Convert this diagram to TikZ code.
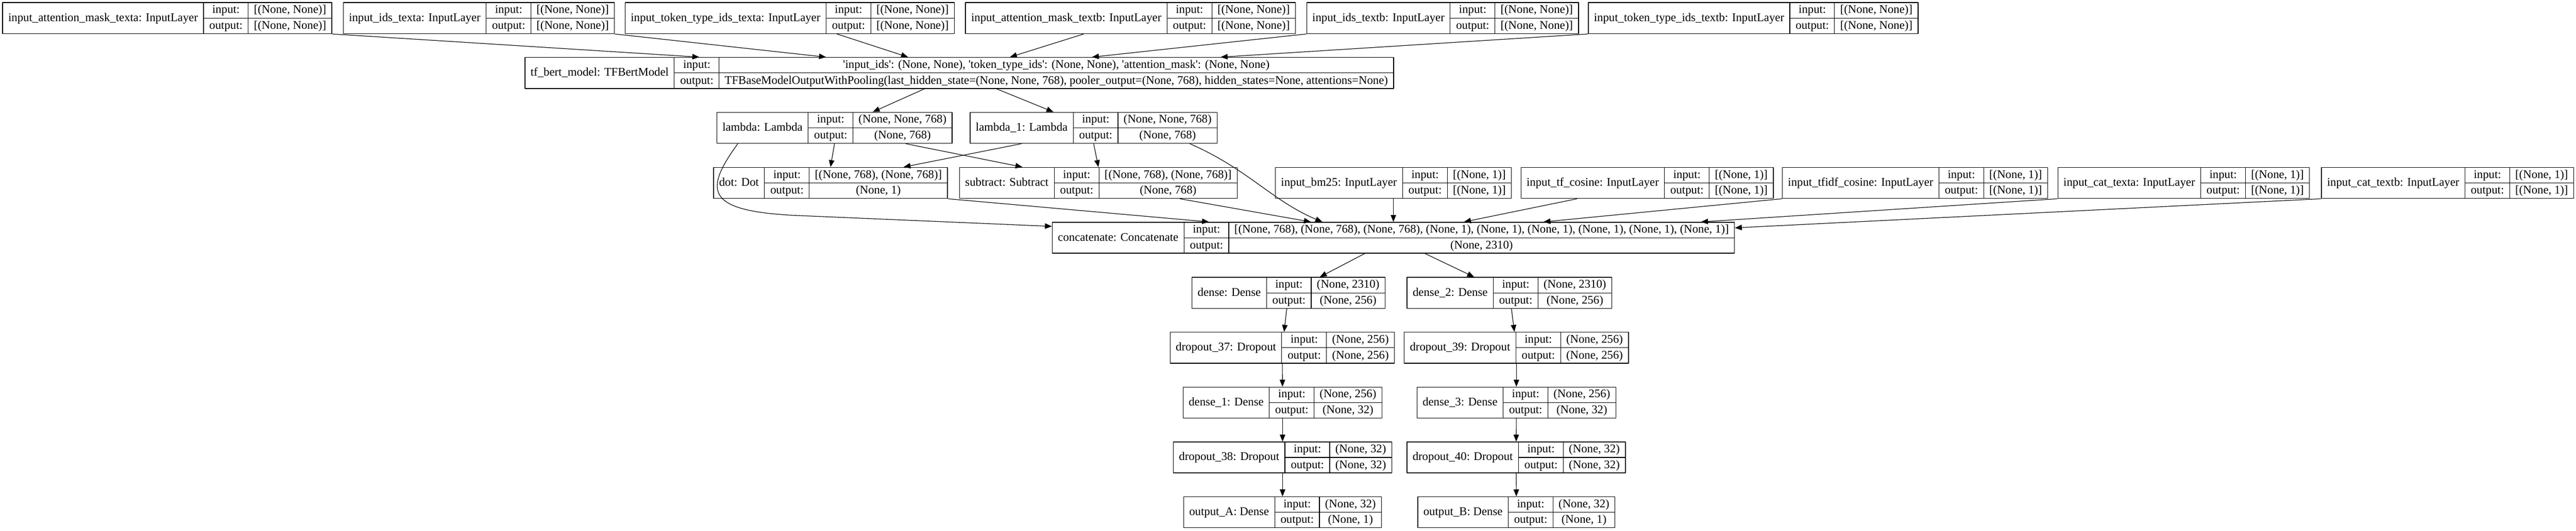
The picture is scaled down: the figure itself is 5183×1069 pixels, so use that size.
\documentclass[tikz,border=0pt]{standalone}
\usepackage{fontspec}
\setmainfont{Liberation Serif}
\usetikzlibrary{arrows.meta}
\setlength{\tabcolsep}{11.3pt}
\setlength{\arrayrulewidth}{1.2pt}
\renewcommand{\arraystretch}{1.07}
\newcommand{\q}{\textquotesingle}
% one keras layer: name | input/output | shapes
\newcommand{\layerrec}[3]{%
  \begin{tabular}{c|@{}c@{}}
    #1 &
    \begin{tabular}{c|c}
      input: & #2\\ \hline
      output: & #3
    \end{tabular}
  \end{tabular}}
\begin{document}
\begin{tikzpicture}[x=1pt, y=-1pt, line join=round,
  layer/.style={draw, line width=1.5pt, inner sep=0pt, font=\fontsize{23.6}{28.6}\selectfont},
  edge/.style={line width=1.2pt, -{Triangle[length=14pt,width=11pt]}}]
\useasboundingbox (0,0) rectangle (5183,1069);
\def \nn{[(None, None)]};
\def \none{[(None, 1)]};
% inputs of the bert model
\node[layer] (a1) at (336.5,36.5) {\layerrec{input\_attention\_mask\_texta: InputLayer}{\nn}{\nn}};
\node[layer] (a2) at (963.5,36.5) {\layerrec{input\_ids\_texta: InputLayer}{\nn}{\nn}};
\node[layer] (a3) at (1589,36.5) {\layerrec{input\_token\_type\_ids\_texta: InputLayer}{\nn}{\nn}};
\node[layer] (a4) at (2274.5,36.5) {\layerrec{input\_attention\_mask\_textb: InputLayer}{\nn}{\nn}};
\node[layer] (a5) at (2902.5,36.5) {\layerrec{input\_ids\_textb: InputLayer}{\nn}{\nn}};
\node[layer] (a6) at (3527.5,36.5) {\layerrec{input\_token\_type\_ids\_textb: InputLayer}{\nn}{\nn}};
\node[layer] (tfbert) at (1930,147) {\layerrec{tf\_bert\_model: TFBertModel}{\q input\_ids\q: (None, None), \q token\_type\_ids\q: (None, None), \q attention\_mask\q: (None, None)}{TFBaseModelOutputWithPooling(last\_hidden\_state=(None, None, 768), pooler\_output=(None, 768), hidden\_states=None, attentions=None)}};
\node[layer] (lambda) at (1679,257.5) {\layerrec{lambda: Lambda}{(None, None, 768)}{(None, 768)}};
\node[layer] (lambda1) at (2200.5,257.5) {\layerrec{lambda\_1: Lambda}{(None, None, 768)}{(None, 768)}};
\node[layer] (dot) at (1671,368.5) {\layerrec{dot: Dot}{[(None, 768), (None, 768)]}{(None, 1)}};
\node[layer] (subtract) at (2210,368.5) {\layerrec{subtract: Subtract}{[(None, 768), (None, 768)]}{(None, 768)}};
\node[layer] (bm25) at (2803.5,368.5) {\layerrec{input\_bm25: InputLayer}{\none}{\none}};
\node[layer] (tfcos) at (3314,368.5) {\layerrec{input\_tf\_cosine: InputLayer}{\none}{\none}};
\node[layer] (tfidf) at (3853,368.5) {\layerrec{input\_tfidf\_cosine: InputLayer}{\none}{\none}};
\node[layer] (cata) at (4393.5,368.5) {\layerrec{input\_cat\_texta: InputLayer}{\none}{\none}};
\node[layer] (catb) at (4924.5,368.5) {\layerrec{input\_cat\_textb: InputLayer}{\none}{\none}};
\node[layer] (concat) at (2803.5,479) {\layerrec{concatenate: Concatenate}{[(None, 768), (None, 768), (None, 768), (None, 1), (None, 1), (None, 1), (None, 1), (None, 1), (None, 1)]}{(None, 2310)}};
% two heads
\node[layer] (dense) at (2592.5,590) {\layerrec{dense: Dense}{(None, 2310)}{(None, 256)}};
\node[layer] (dense2) at (3037,590) {\layerrec{dense\_2: Dense}{(None, 2310)}{(None, 256)}};
\node[layer] (drop37) at (2580,700.5) {\layerrec{dropout\_37: Dropout}{(None, 256)}{(None, 256)}};
\node[layer] (drop39) at (3051,700.5) {\layerrec{dropout\_39: Dropout}{(None, 256)}{(None, 256)}};
\node[layer] (dense1) at (2580.5,811) {\layerrec{dense\_1: Dense}{(None, 256)}{(None, 32)}};
\node[layer] (dense3) at (3051,811) {\layerrec{dense\_3: Dense}{(None, 256)}{(None, 32)}};
\node[layer] (drop38) at (2580.5,921.5) {\layerrec{dropout\_38: Dropout}{(None, 32)}{(None, 32)}};
\node[layer] (drop40) at (3050.5,921.5) {\layerrec{dropout\_40: Dropout}{(None, 32)}{(None, 32)}};
\node[layer] (outA) at (2580.5,1032) {\layerrec{output\_A: Dense}{(None, 32)}{(None, 1)}};
\node[layer] (outB) at (3051,1032) {\layerrec{output\_B: Dense}{(None, 32)}{(None, 1)}};
% edges into the bert model
\draw[edge] (a1.south east) -- ([xshift=-523pt]tfbert.north);
\draw[edge] (a2.south east) -- ([xshift=-268pt]tfbert.north);
\draw[edge] ([xshift=95pt]a3.south) -- ([xshift=-103pt]tfbert.north);
\draw[edge] ([xshift=-94pt]a4.south) -- ([xshift=102pt]tfbert.north);
\draw[edge] (a5.south west) -- ([xshift=267pt]tfbert.north);
\draw[edge] (a6.south west) -- ([xshift=526pt]tfbert.north);
\draw[edge] ([xshift=-70pt]tfbert.south) -- ([xshift=77pt]lambda.north);
\draw[edge] ([xshift=75pt]tfbert.south) -- ([xshift=-81pt]lambda1.north);
% lambdas
\draw[edge] (lambda.south) -- (dot.north);
\draw[edge] ([xshift=143pt]lambda.south) -- ([xshift=-153pt]subtract.north);
\draw[edge] ([xshift=-145pt]lambda1.south) -- ([xshift=147pt]dot.north);
\draw[edge] (lambda1.south) -- (subtract.north);
\draw[edge] ([xshift=43pt]lambda.south west) .. controls (1415,385) and (1420,425) .. (1600,434) -- ([yshift=-9pt]concat.north west);
\draw[edge] ([xshift=-56pt]lambda1.south east) .. controls (2510,340) and (2560,405) .. ([xshift=-143pt]concat.north);
% into concatenate
\draw[edge] (dot.south east) -- ([xshift=-371pt]concat.north);
\draw[edge] ([xshift=164pt]subtract.south) -- ([xshift=-166pt]concat.north);
\draw[edge] (bm25) -- (concat);
\draw[edge] ([xshift=-141pt]tfcos.south) -- ([xshift=142pt]concat.north);
\draw[edge] (tfidf.south west) -- ([xshift=302pt]concat.north);
\draw[edge] (cata.south west) -- ([xshift=619pt]concat.north);
\draw[edge] (catb.south west) -- ([yshift=-12pt]concat.north east);
\draw[edge] ([xshift=-58pt]concat.south) -- ([xshift=63pt]dense.north);
\draw[edge] ([xshift=64pt]concat.south) -- ([xshift=-71pt]dense2.north);
\foreach \u/\v in {dense/drop37, drop37/dense1, dense1/drop38, drop38/outA,
  dense2/drop39, drop39/dense3, dense3/drop40, drop40/outB}
  \draw[edge] (\u) -- (\v);
\end{tikzpicture}
\end{document}
